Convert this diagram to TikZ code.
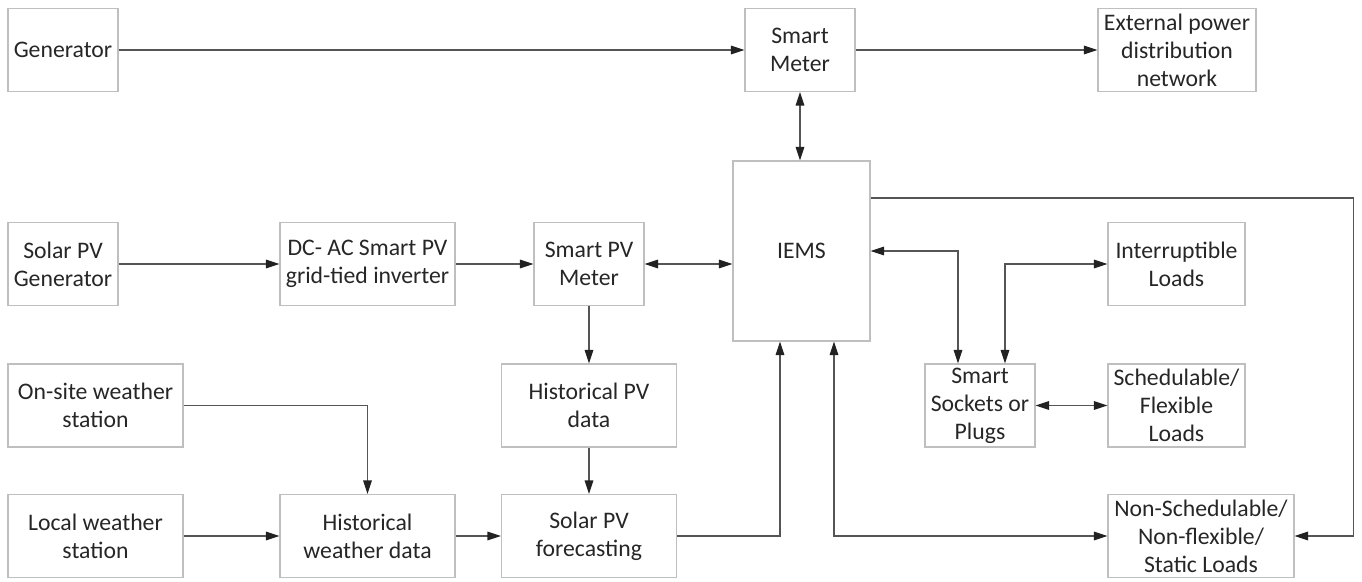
\documentclass[tikz,border=0pt]{standalone}
\usepackage{fontspec}
\setmainfont{Carlito}
\usetikzlibrary{arrows.meta,calc}
\definecolor{boxline}{HTML}{BFBFBF}
\definecolor{wire}{HTML}{555555}
\definecolor{tip}{HTML}{222222}
\definecolor{ink}{HTML}{262626}

\begin{document}
\begin{tikzpicture}[
  font=\fontsize{13.5}{15.9}\selectfont,
  box/.style={draw=boxline, line width=0.6pt, align=center, inner sep=2pt,
    minimum height=1.66cm, text=ink},
  narrow/.style={box, minimum width=2.20cm},
  mid/.style={box, minimum width=2.74cm},
  wide/.style={box, minimum width=3.50cm},
  arr/.style={-{Triangle[length=2.7mm, width=1.7mm, color=tip]}, draw=wire, line width=0.75pt},
  biarr/.style={{Triangle[length=2.7mm, width=1.7mm, color=tip]}-{Triangle[length=2.7mm, width=1.7mm, color=tip]},
    draw=wire, line width=0.75pt},
]
  \useasboundingbox (0,0) rectangle (27.24,11.62);

  % Top row
  \node[narrow] (gen) at (1.26,10.62) {Generator};
  \node[narrow] (smeter) at (16.00,10.62) {Smart\\Meter};
  \node[box, minimum width=3.16cm] (ext) at (23.54,10.62)
    {External power\\distribution\\network};

  % Energy management system
  \node[mid, minimum height=3.60cm] (iems) at (16.03,6.60) {IEMS};

  % PV chain
  \node[narrow] (spvgen) at (1.26,6.34) {Solar PV\\Generator};
  \node[wide] (dcac) at (7.35,6.34) {DC- AC Smart PV\\grid-tied inverter};
  \node[narrow] (spvm) at (11.78,6.34) {Smart PV\\Meter};
  \node[wide] (hpv) at (11.78,3.51) {Historical PV\\data};

  % Weather and forecasting
  \node[wide] (onsite) at (1.91,3.51) {On-site weather\\station};
  \node[wide] (local) at (1.91,0.90) {Local weather\\station};
  \node[wide] (hwd) at (7.35,0.90) {Historical\\weather data};
  \node[wide] (spvf) at (11.78,0.90) {Solar PV\\forecasting};

  % Loads
  \node[mid] (intr) at (23.53,6.34) {Interruptible\\Loads};
  \node[narrow] (sock) at (19.60,3.51) {Smart\\Sockets or\\Plugs};
  \node[mid] (sched) at (23.53,3.51) {Schedulable/\\Flexible\\Loads};
  \node[box, minimum width=3.72cm] (nons) at (24.02,0.90)
    {Non-Schedulable/\\Non-flexible/\\Static Loads};

  % Power flow
  \draw[arr] (gen) -- (smeter);
  \draw[arr] (smeter) -- (ext);
  \draw[biarr] (smeter.south) -- (smeter.south |- iems.north);

  \draw[arr] (spvgen) -- (dcac);
  \draw[arr] (dcac) -- (spvm);
  \draw[biarr] (spvm.east) -- (spvm.east -| iems.west);

  % Data flow
  \draw[arr] (spvm.south) -- (spvm.south |- hpv.north);
  \draw[arr] (hpv) -- (spvf);
  \draw[arr] (onsite.east) -| (hwd.north);
  \draw[arr] (local) -- (hwd);
  \draw[arr] (hwd) -- (spvf);
  \draw[arr] (spvf.east) -| ($(iems.south)+(-0.43,0)$);

  % Load control
  \draw[biarr] ($(iems.south)+(0.65,0)$) |- (nons.west);
  \draw[arr] ($(iems.east)+(0,1.06)$) -| ($(nons.east)+(1.18,0)$) -- (nons.east);
  \draw[biarr] (iems.east) -| ($(sock.north)+(-0.44,0)$);
  \draw[biarr] (intr.west) -| ($(sock.north)+(0.50,0)$);
  \draw[biarr] (sock) -- (sched);
\end{tikzpicture}
\end{document}
